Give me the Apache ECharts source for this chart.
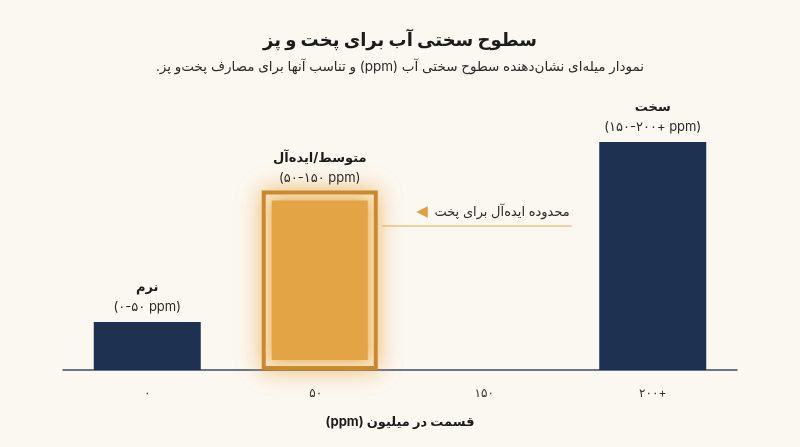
<!DOCTYPE html>
<html lang="fa">
<head>
<meta charset="utf-8">
<title>سطوح سختی آب برای پخت و پز</title>
<script src="https://cdn.jsdelivr.net/npm/echarts@6/dist/echarts.min.js"></script>
<style>
  html, body { margin: 0; padding: 0; background: #FBF8F2; }
  #chart { width: 800px; height: 447px; }
</style>
</head>
<body>
<div id="chart"></div>
<script>
// داده‌ها
const categories = ['۰', '۵۰', '۱۵۰', '۲۰۰+'];
const hardness = [20, null, null, 95];     // میله‌های سرمه‌ای
const ideal = [null, 74, null, null];      // میله نارنجی (محدوده ایده‌آل)
const levelNames = ['نرم', 'متوسط/ایده‌آل', '', 'سخت'];
const levelRanges = ['(۰-۵۰ ppm)', '(۵۰-۱۵۰ ppm)', '', '(۱۵۰-۲۰۰+ ppm)'];

const FONT = "Inter, 'DejaVu Sans', sans-serif";
// جهت راست به چپ برای متن‌های فارسی مخلوط با لاتین
const rtl = s => '\u202B' + s + '\u202C';

const NAVY = '#1E3150';
const ORANGE = '#E3A446';

const chart = echarts.init(document.getElementById('chart'));

const labelRich = {
  n: { fontFamily: FONT, fontSize: 13, fontWeight: 'bold', color: '#1B1B1B', lineHeight: 20 },
  r: { fontFamily: FONT, fontSize: 13, color: '#2A2A2A', lineHeight: 20 }
};
// برای المان‌های graphic رنگ با fill داده می‌شود
const textRich = {
  n: { fontFamily: FONT, fontSize: 13, fontWeight: 'bold', fill: '#1B1B1B', lineHeight: 20 },
  r: { fontFamily: FONT, fontSize: 13, fill: '#2A2A2A', lineHeight: 20 }
};

const option = {
  backgroundColor: '#FBF8F2',
  title: {
    text: 'سطوح سختی آب برای پخت و پز',
    subtext: rtl('نمودار میله‌ای نشان‌دهنده سطوح سختی آب (ppm) و تناسب آنها برای مصارف پخت‌و پز.'),
    left: 'center',
    top: 27,
    itemGap: 10,
    textStyle: { fontFamily: FONT, fontSize: 18, fontWeight: 'bold', color: '#1B1B1B' },
    subtextStyle: { fontFamily: FONT, fontSize: 13.5, color: '#2A2A2A' }
  },
  grid: { left: 63, right: 63, top: 130, bottom: 77 },
  xAxis: {
    type: 'category',
    data: categories,
    name: rtl('قسمت در میلیون (ppm)'),
    nameLocation: 'middle',
    nameGap: 46,
    nameTextStyle: { fontFamily: FONT, fontSize: 13, fontWeight: 'bold', color: '#1B1B1B' },
    axisLine: { lineStyle: { color: '#3C4A60', width: 1.5 } },
    axisTick: { alignWithLabel: true, length: 7, lineStyle: { color: '#666' } },
    axisLabel: { fontFamily: FONT, fontSize: 12, color: '#333', margin: 17 }
  },
  yAxis: { type: 'value', min: 0, max: 100, show: false, splitLine: { show: false } },
  series: [
    {
      type: 'bar',
      data: hardness,
      barWidth: 107,
      itemStyle: { color: NAVY },
      label: {
        show: true,
        position: 'top',
        distance: 5,
        formatter: p => '{n|' + levelNames[p.dataIndex] + '}\n{r|' + levelRanges[p.dataIndex] + '}',
        rich: labelRich
      }
    },
    {
      type: 'custom',
      data: ideal.map((v, i) => [i, v]),
      renderItem: function (params, api) {
        if (api.value(1) == null || isNaN(api.value(1))) return;
        const top = api.coord([api.value(0), api.value(1)]);
        const base = api.coord([api.value(0), 0]);
        const w = 112, h = base[1] - top[1];
        const x = top[0] + 4 - w / 2, y = top[1];
        const i = params.dataIndex;
        return {
          type: 'group',
          children: [
            {
              type: 'rect',
              shape: { x: x, y: y, width: w, height: h - 2 },
              style: {
                fill: '#FBEFD8', stroke: '#C8862D', lineWidth: 4,
                shadowBlur: 22, shadowColor: 'rgba(236,168,66,0.65)'
              }
            },
            {
              type: 'rect',
              shape: { x: x + 8, y: y + 8, width: w - 16, height: h - 18 },
              style: { fill: ORANGE, shadowBlur: 14, shadowColor: ORANGE }
            },
            {
              type: 'text',
              x: top[0] + 4,
              y: y - 4,
              style: {
                text: '{n|' + levelNames[i] + '}\n{r|' + levelRanges[i] + '}',
                rich: textRich,
                align: 'center',
                verticalAlign: 'bottom'
              }
            }
          ]
        };
      },
      z: 3
    }
  ]
};

chart.setOption(option);

// یادداشت محدوده ایده‌آل، کنار میله نارنجی
const anchor = chart.convertToPixel({ gridIndex: 0 }, [1, 60]);
const lineStart = anchor[0] + 66;
chart.setOption({
  graphic: [
    {
      type: 'line',
      shape: { x1: lineStart, y1: anchor[1], x2: lineStart + 190, y2: anchor[1] },
      style: { stroke: '#EBC58C', lineWidth: 1.5 }
    },
    {
      type: 'text',
      x: lineStart + 188,
      y: anchor[1] - 14,
      style: {
        text: '{t|◀}  {a|محدوده ایده‌آل برای پخت}',
        align: 'right',
        verticalAlign: 'middle',
        rich: {
          t: { fontFamily: 'DejaVu Sans', fontSize: 15, fill: '#E0A040' },
          a: { fontFamily: FONT, fontSize: 13, fill: '#2A2A2A' }
        }
      }
    }
  ]
});
</script>
</body>
</html>
